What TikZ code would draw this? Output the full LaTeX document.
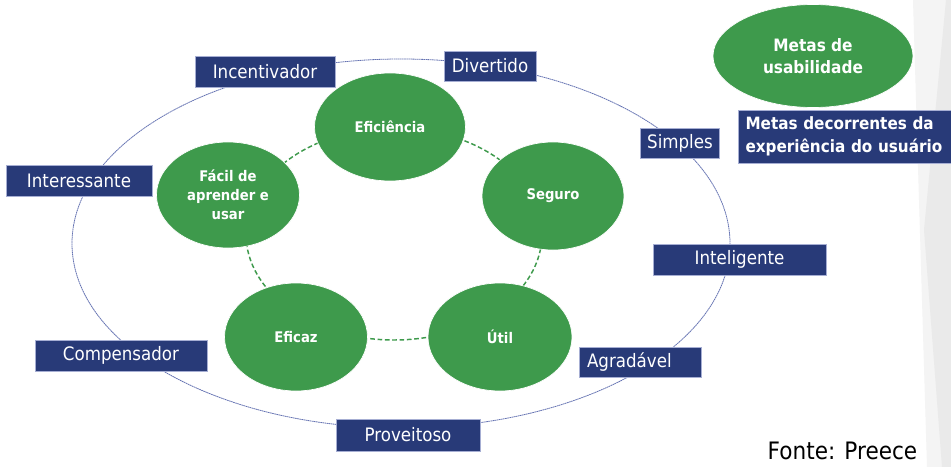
\documentclass[tikz,border=0pt]{standalone}
\usepackage{fontspec}
\setmainfont{DejaVu Sans}[FakeStretch=0.9]
\usetikzlibrary{shapes.geometric}
\newlength\pxl
\setlength\pxl{0.75pt}
\definecolor{ggreen}{HTML}{3E9A4C}
\definecolor{tagblue}{HTML}{283A78}
\definecolor{tagedge}{HTML}{A6AED3}
\definecolor{ringblue}{HTML}{6472B2}
\definecolor{bgA}{HTML}{F4F4F4}
\definecolor{bgB}{HTML}{EAEAEA}
\begin{document}
\begin{tikzpicture}[x=0.75pt,y=-0.75pt,
  goal/.style={ellipse, fill=ggreen, draw=white, line width=0.5pt, text=white,
    font=\bfseries\fontsize{11}{14.3}\selectfont, align=center, inner sep=0pt},
  tag/.style={rectangle, fill=tagblue, draw=tagedge, line width=0.6pt, text=white,
    font=\fontsize{13.9}{16}\selectfont, minimum height=31\pxl, inner sep=0pt},
  ring/.style={draw=ringblue, line width=0.6pt, dash pattern=on 1.2pt off 0.4pt},
  link/.style={draw=ggreen, line width=1.1pt, dash pattern=on 3.5pt off 2pt}]
\fill[white] (0,0) rectangle (951,467);
\useasboundingbox (0,0) rectangle (951,467);
% background decoration
\fill[bgA] (913,0) -- (951,0) -- (951,467) -- (927,467) -- cycle;
\fill[bgB] (946,0) -- (951,0) -- (951,467) -- (942,467) -- (924,230) -- cycle;
% outer ring
\draw[ring] (401,243.5) ellipse [x radius=329, y radius=184.5];
% inner dashed ring
\draw[link] (394,234) ellipse [x radius=148, y radius=106];
% usability goals
\node[goal, minimum width=151\pxl, minimum height=108\pxl] (efi) at (390,127) {Eficiência};
\node[goal, minimum width=143\pxl, minimum height=106\pxl] (facil) at (228,195) {Fácil de\\aprender e\\usar};
\node[goal, minimum width=142\pxl, minimum height=108\pxl] (seg) at (553,196) {Seguro};
\node[goal, minimum width=143\pxl, minimum height=108\pxl] (eficaz) at (296,337) {Eficaz};
\node[goal, minimum width=144\pxl, minimum height=108\pxl] (util) at (500,337) {Útil};
\node[goal, minimum width=200\pxl, minimum height=103\pxl, font=\bfseries\fontsize{12.8}{16.5}\selectfont] (usab) at (813,56) {Metas de\\usabilidade};
% experience goals
\node[tag, minimum width=140\pxl] (inc) at (265,71.5) {Incentivador};
\node[tag, minimum width=92\pxl, minimum height=30\pxl] (div) at (490,66) {Divertido};
\node[tag, minimum width=146\pxl] (int) at (79,180.5) {Interessante};
\node[tag, minimum width=79\pxl, minimum height=30\pxl] (sim) at (680,143) {Simples};
\node[tag, minimum width=173\pxl] (intel) at (739.5,259.5) {Inteligente};
\node[tag, inner xsep=8\pxl, text width=106\pxl, align=left, minimum height=30\pxl] (agr) at (640,362) {Agradável};
\node[tag, minimum width=172\pxl] (comp) at (121,355.5) {Compensador};
\node[tag, minimum width=144\pxl, minimum height=32\pxl] (prov) at (408,435) {Proveitoso};
\node[tag, inner xsep=7\pxl, text width=199\pxl, align=left, minimum height=53\pxl,
  font=\bfseries\fontsize{12.7}{17}\selectfont] (exp) at (845,136.5) {Metas decorrentes da\\experiência do usuário};
% source
\node[font=\fontsize{18}{20}\selectfont, text=black, inner sep=0pt] (src) at (842.5,451) {Fonte: Preece};
\end{tikzpicture}
\end{document}
